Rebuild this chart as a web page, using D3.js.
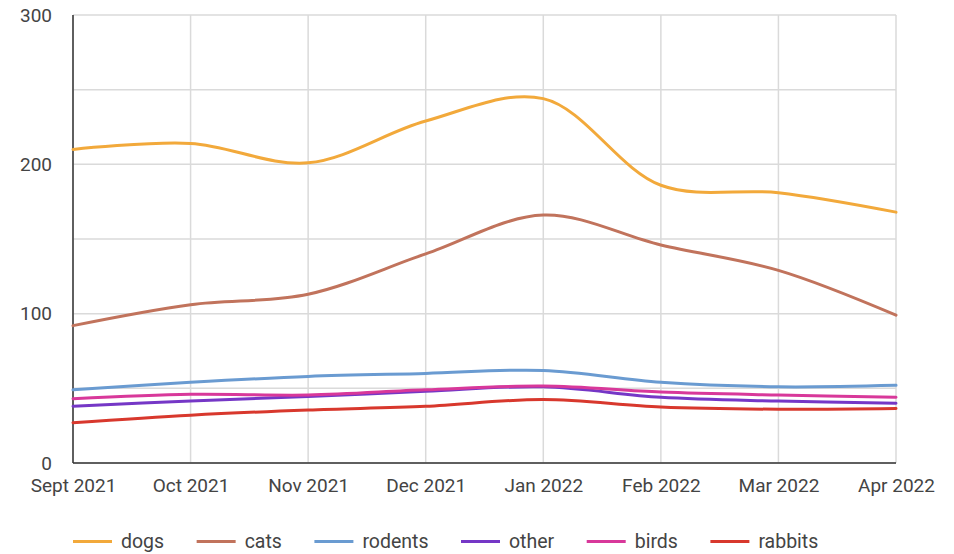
<!DOCTYPE html>
<html>
<head>
<meta charset="utf-8">
<script src="https://cdn.jsdelivr.net/npm/d3@7"></script>
<style>
  html, body { margin: 0; padding: 0; background: #fff; }
  svg { display: block; font-family: Roboto, "Noto Sans", sans-serif; }
</style>
</head>
<body>
<svg id="chart" width="954" height="554"></svg>
<script>
const months = ["Sept 2021", "Oct 2021", "Nov 2021", "Dec 2021", "Jan 2022", "Feb 2022", "Mar 2022", "Apr 2022"];
const seriesNames = ["dogs", "cats", "rodents", "other", "birds", "rabbits"];
const seriesColors = ["#F2A93B", "#C1735C", "#6A9BD1", "#7537C6", "#D8389A", "#D8382D"];
const dogs    = [210, 214, 201, 229, 244, 186, 181, 168];
const cats    = [92, 106, 113, 140, 166, 146, 129, 99];
const rodents = [49, 54, 58, 60, 62, 54, 51, 52];
const other   = [38, 41.5, 44.5, 48, 51, 44, 41.5, 40];
const birds   = [43, 46, 45.5, 49, 51.5, 47.5, 45.5, 44];
const rabbits = [27, 32, 35.5, 38, 42.5, 37.5, 36, 36.5];
const yTicks = [0, 100, 200, 300];
const yGrid = [0, 50, 100, 150, 200, 250, 300];

const seriesValues = [dogs, cats, rodents, other, birds, rabbits];

(function () {
const svg = d3.select("#chart");
const pLeft = 73, pRight = 896, pTop = 15, pBottom = 463;

const x = d3.scalePoint().domain(months).range([pLeft, pRight]);
const y = d3.scaleLinear().domain([0, 300]).range([pBottom, pTop]);

// horizontal gridlines
svg.append("g").selectAll("line").data(yGrid).join("line")
  .attr("x1", pLeft).attr("x2", pRight)
  .attr("y1", d => y(d)).attr("y2", d => y(d))
  .attr("stroke", "#dadada").attr("stroke-width", 1.5);

// vertical gridlines
svg.append("g").selectAll("line").data(months).join("line")
  .attr("x1", d => x(d)).attr("x2", d => x(d))
  .attr("y1", pTop).attr("y2", pBottom)
  .attr("stroke", "#dadada").attr("stroke-width", 1.5);

// y axis labels
const yAxis = d3.axisLeft(y).tickValues(yTicks).tickSize(0).tickPadding(21);
const gy = svg.append("g").attr("transform", `translate(${pLeft},0)`).call(yAxis);
gy.select(".domain").remove();
gy.selectAll("text").attr("font-size", 19).attr("fill", "#444").attr("font-family", "Roboto");

// x axis labels
const xAxis = d3.axisBottom(x).tickSize(0).tickPadding(16);
const gx = svg.append("g").attr("transform", `translate(0,${pBottom})`).call(xAxis);
gx.select(".domain").remove();
gx.selectAll("text").attr("font-size", 19).attr("fill", "#444").attr("font-family", "Roboto");

// axis lines
svg.append("line").attr("x1", pLeft).attr("x2", pLeft).attr("y1", pTop).attr("y2", pBottom)
  .attr("stroke", "#333").attr("stroke-width", 1.5);
svg.append("line").attr("x1", pLeft).attr("x2", pRight).attr("y1", pBottom).attr("y2", pBottom)
  .attr("stroke", "#333").attr("stroke-width", 1.5);

// lines
const line = d3.line()
  .x((d, i) => x(months[i]))
  .y(d => y(d))
  .curve(d3.curveCatmullRom.alpha(0.5));

svg.append("g").selectAll("path").data(seriesValues).join("path")
  .attr("d", d => line(d))
  .attr("fill", "none")
  .attr("stroke", (d, i) => seriesColors[i])
  .attr("stroke-width", 3)
  .attr("stroke-linejoin", "round")
  .attr("stroke-linecap", "round");

// legend
const legend = svg.append("g");
let lx = 73;
const ly = 541.5;
seriesNames.forEach((name, i) => {
  legend.append("line")
    .attr("x1", lx).attr("x2", lx + 39)
    .attr("y1", ly).attr("y2", ly)
    .attr("stroke", seriesColors[i]).attr("stroke-width", 3);
  const t = legend.append("text")
    .attr("x", lx + 48).attr("y", ly + 6.5)
    .attr("font-size", 19.5).attr("fill", "#444").attr("font-family", "Roboto")
    .text(name);
  const w = t.node().getComputedTextLength();
  lx = lx + 48 + w + 32.5;
});
})();
</script>
</body>
</html>
